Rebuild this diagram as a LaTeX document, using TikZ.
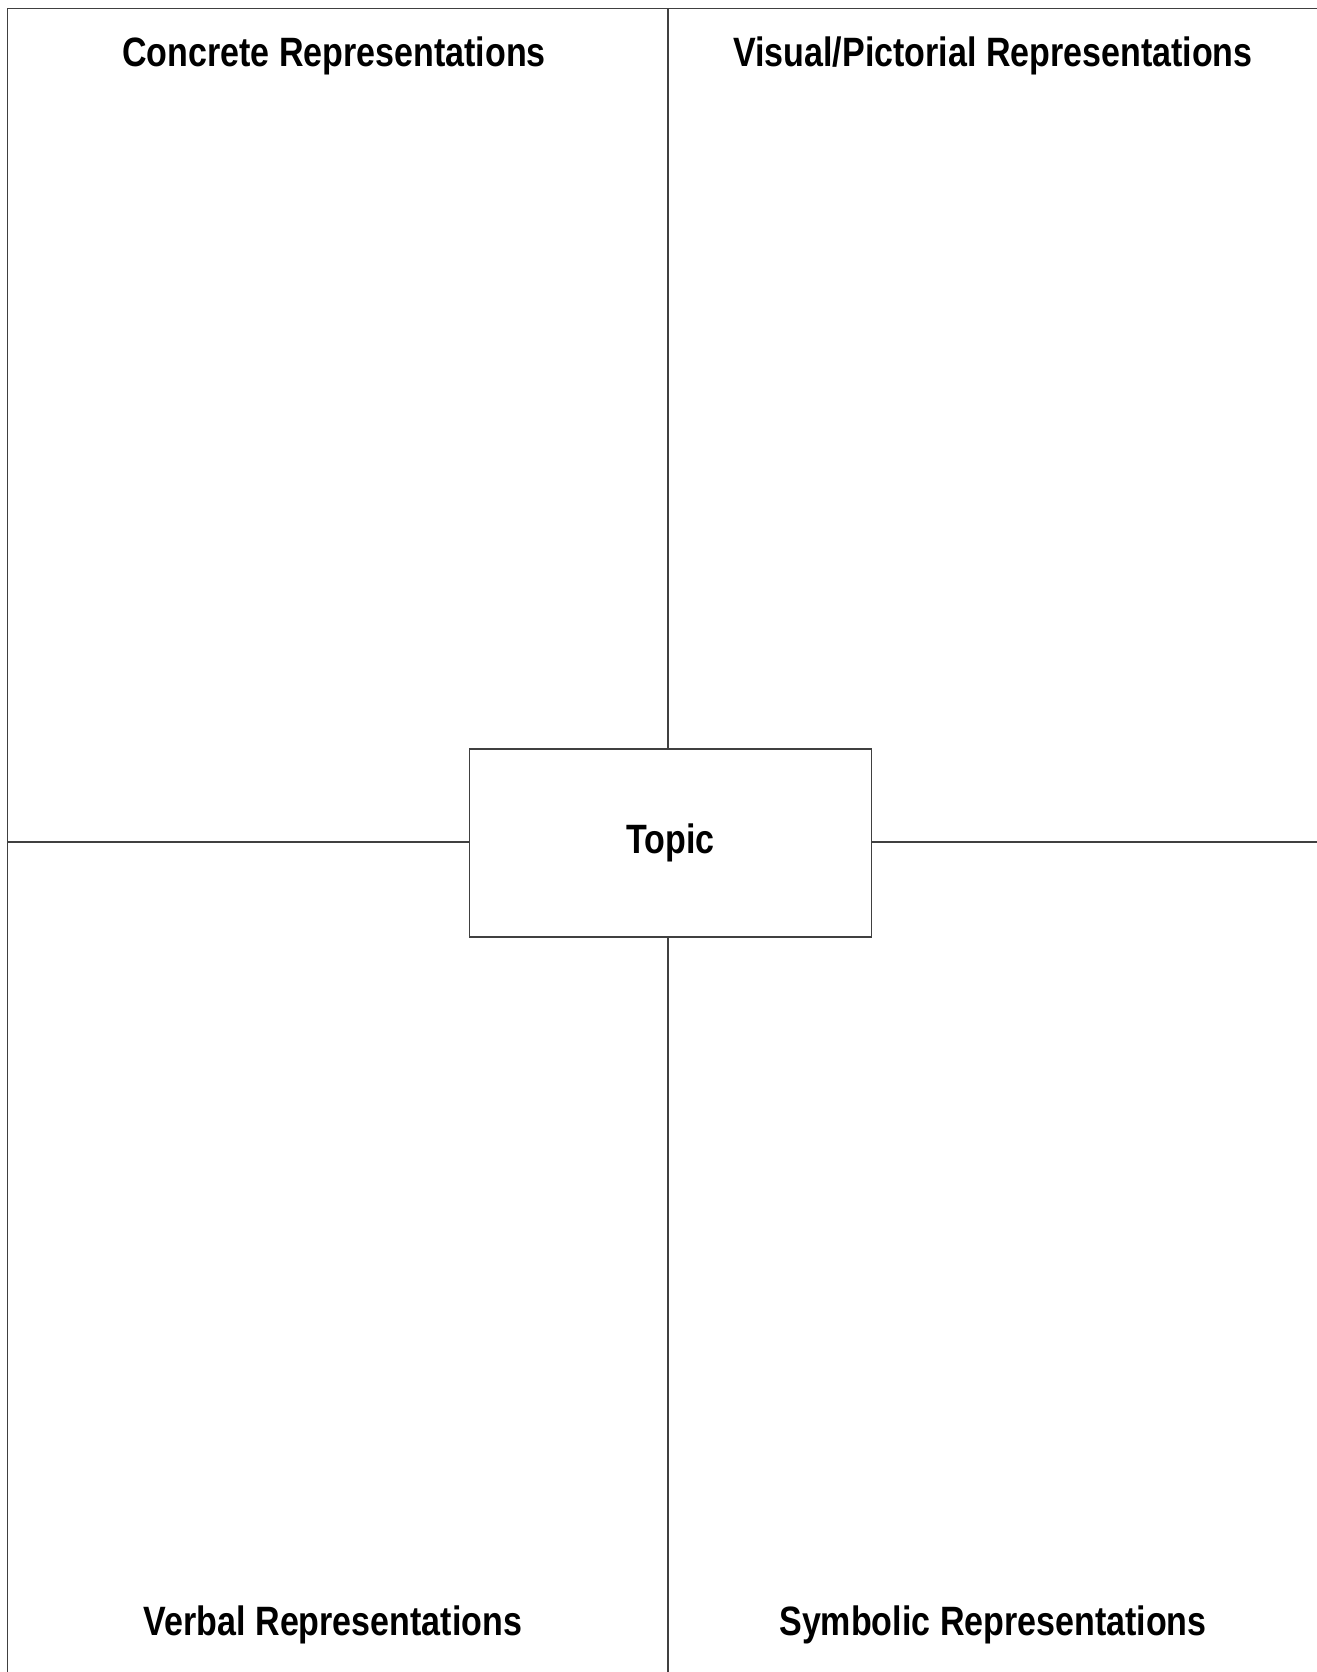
\documentclass[tikz,border=0pt]{standalone}
\usepackage{fontspec}
\setmainfont{Liberation Sans}[FakeStretch=0.83]
\usepackage{tikz}
\usetikzlibrary{positioning}

\begin{document}
\begin{tikzpicture}[
                x=0.5pt, y=-0.5pt,
                heading/.style={font=\fontsize{20.5}{24}\selectfont\bfseries, anchor=center},
                topicbox/.style={rectangle, draw=black!75, line width=0.7pt, minimum width=201pt, minimum height=94pt, font=\fontsize{20.5}{24}\selectfont\bfseries, fill=white},
                divider/.style={draw=black!75, line width=0.7pt}
            ]
                \useasboundingbox (0,0) rectangle (1317,1672);

                % Frame corners and edge points
                \coordinate (tl) at (7.5,8.5);
                \coordinate (tr) at (1317,8.5);
                \coordinate (bl) at (7.5,1672);
                \coordinate (topmid) at (668,8.5);
                \coordinate (botmid) at (668,1672);
                \coordinate (leftmid) at (7.5,842);
                \coordinate (rightmid) at (1317,842);

                % Frame (top and left only)
                \draw[divider] (tr) -- (tl) -- (bl);

                % Topic box in the middle
                \node[topicbox] (topic) at (670.5,843) {Topic};

                % Dividers
                \draw[divider] (topmid) -- (topmid |- topic.north);
                \draw[divider] (topic.south -| botmid) -- (botmid);
                \draw[divider] (leftmid) -- (leftmid -| topic.west);
                \draw[divider] (topic.east |- rightmid) -- (rightmid);

                % Headings
                \node[heading] (concrete) at (334,56) {Concrete Representations};
                \node[heading] (visual) at (993,56) {Visual/Pictorial Representations};
                \node[heading] (verbal) at (333,1625) {Verbal Representations};
                \node[heading] (symbolic) at (993,1625) {Symbolic Representations};
            \end{tikzpicture}
\end{document}
